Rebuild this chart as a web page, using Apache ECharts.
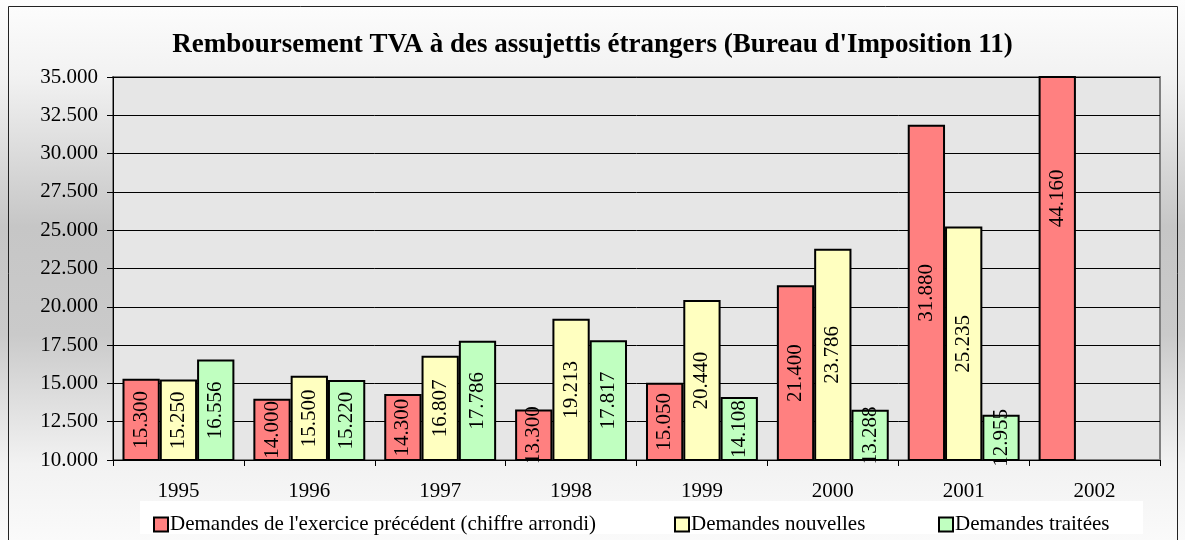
<!DOCTYPE html>
<html>
<head>
<meta charset="utf-8">
<script src="https://cdn.jsdelivr.net/npm/echarts@6/dist/echarts.min.js"></script>
<style>
  html, body { margin: 0; padding: 0; background: #fff; }
  #chart { width: 1185px; height: 540px; }
</style>
</head>
<body>
<div id="chart"></div>
<script>
var years = ['1995', '1996', '1997', '1998', '1999', '2000', '2001', '2002'];
var demandesPrecedent = [15300, 14000, 14300, 13300, 15050, 21400, 31880, 44160];
var demandesNouvelles = [15250, 15500, 16807, 19213, 20440, 23786, 25235, null];
var demandesTraitees = [16556, 15220, 17786, 17817, 14108, 13288, 12955, null];
var seriesNames = [
    "Demandes de l'exercice précédent (chiffre arrondi)",
    'Demandes nouvelles',
    'Demandes traitées'
];
var seriesColors = ['#ff8080', '#ffffc0', '#c0ffc0'];
var legendLefts = [148, 669, 933];
var yMin = 10000, yMax = 35000;

var serif = '"Liberation Serif", "DejaVu Serif", serif';

function formatThousands(v) {
    return String(Math.round(v)).replace(/\B(?=(\d{3})+(?!\d))/g, '.');
}

function makeSeries(name, data, color) {
    return {
        name: name,
        type: 'bar',
        data: data,
        barGap: '0%',
        barCategoryGap: '14.5%',
        itemStyle: {
            color: color,
            borderColor: '#000',
            borderWidth: 2
        },
        label: {
            show: true,
            position: 'inside',
            rotate: 90,
            color: '#000',
            fontFamily: serif,
            fontSize: 21,
            formatter: function (p) { return formatThousands(p.value); }
        }
    };
}

// one legend per series so each item sits where the reference puts it
var legends = seriesNames.map(function (name, i) {
    return {
        left: legendLefts[i],
        top: 509,
        itemWidth: 14,
        itemHeight: 14,
        icon: 'rect',
        textStyle: { fontFamily: serif, fontSize: 21, color: '#000', padding: [0, 0, 0, -3] },
        itemStyle: { borderColor: '#000', borderWidth: 2 },
        data: [name]
    };
});

var allSeries = [demandesPrecedent, demandesNouvelles, demandesTraitees];

var chart = echarts.init(document.getElementById('chart'));
chart.setOption({
    backgroundColor: {
        type: 'linear', x: 0, y: 0, x2: 0, y2: 1,
        colorStops: [
            { offset: 0, color: '#fdfdfd' },
            { offset: 0.14, color: '#f2f2f2' },
            { offset: 0.42, color: '#c6c6c6' },
            { offset: 0.62, color: '#cacaca' },
            { offset: 0.86, color: '#f2f2f2' },
            { offset: 1, color: '#fafafa' }
        ]
    },
    animation: false,
    title: {
        text: "Remboursement TVA à des assujettis étrangers (Bureau d'Imposition 11)",
        left: 'center',
        top: 27,
        textStyle: { fontFamily: serif, fontSize: 27, fontWeight: 'bold', color: '#000' }
    },
    graphic: [
        {
            type: 'rect',
            shape: { x: 8.5, y: 6.5, width: 1169, height: 540 },
            style: { fill: 'none', stroke: '#222', lineWidth: 1 },
            z: 100
        },
        {
            type: 'rect',
            shape: { x: 140, y: 501, width: 1003, height: 33 },
            style: { fill: '#fff', stroke: 'none' },
            z: -1
        }
    ],
    legend: legends,
    grid: {
        left: 113,
        right: 25,
        top: 77,
        bottom: 80,
        show: true,
        backgroundColor: '#e6e6e6',
        borderColor: '#808080',
        borderWidth: 2
    },
    xAxis: {
        type: 'category',
        data: years,
        axisLine: { lineStyle: { color: '#000', width: 1 } },
        axisTick: { show: true, length: 6, inside: false, lineStyle: { color: '#000' } },
        axisLabel: { fontFamily: serif, fontSize: 21, color: '#000', margin: 21 }
    },
    yAxis: {
        type: 'value',
        min: yMin,
        max: yMax,
        interval: 2500,
        axisLine: { show: true, lineStyle: { color: '#000', width: 1 } },
        axisTick: { show: true, length: 6, lineStyle: { color: '#000' } },
        splitLine: { lineStyle: { color: '#000', width: 1 } },
        axisLabel: {
            fontFamily: serif, fontSize: 21, color: '#000', margin: 15,
            formatter: function (v) { return formatThousands(v); }
        }
    },
    series: allSeries.map(function (d, i) {
        return makeSeries(seriesNames[i], d, seriesColors[i]);
    })
});

// bars taller than the axis get clipped; like the original, keep their label
// at the middle of the full (unclipped) bar. Label is rotated 90deg, so its
// local x runs upward on screen.
var yTopPx = chart.convertToPixel({ yAxisIndex: 0 }, yMax);
chart.setOption({
    series: allSeries.map(function (d) {
        return {
            data: d.map(function (v) {
                if (v == null || v <= yMax) return v;
                var full = chart.convertToPixel({ yAxisIndex: 0 }, v);
                return { value: v, label: { offset: [(yTopPx - full) / 2, 0] } };
            })
        };
    })
});
</script>
</body>
</html>
